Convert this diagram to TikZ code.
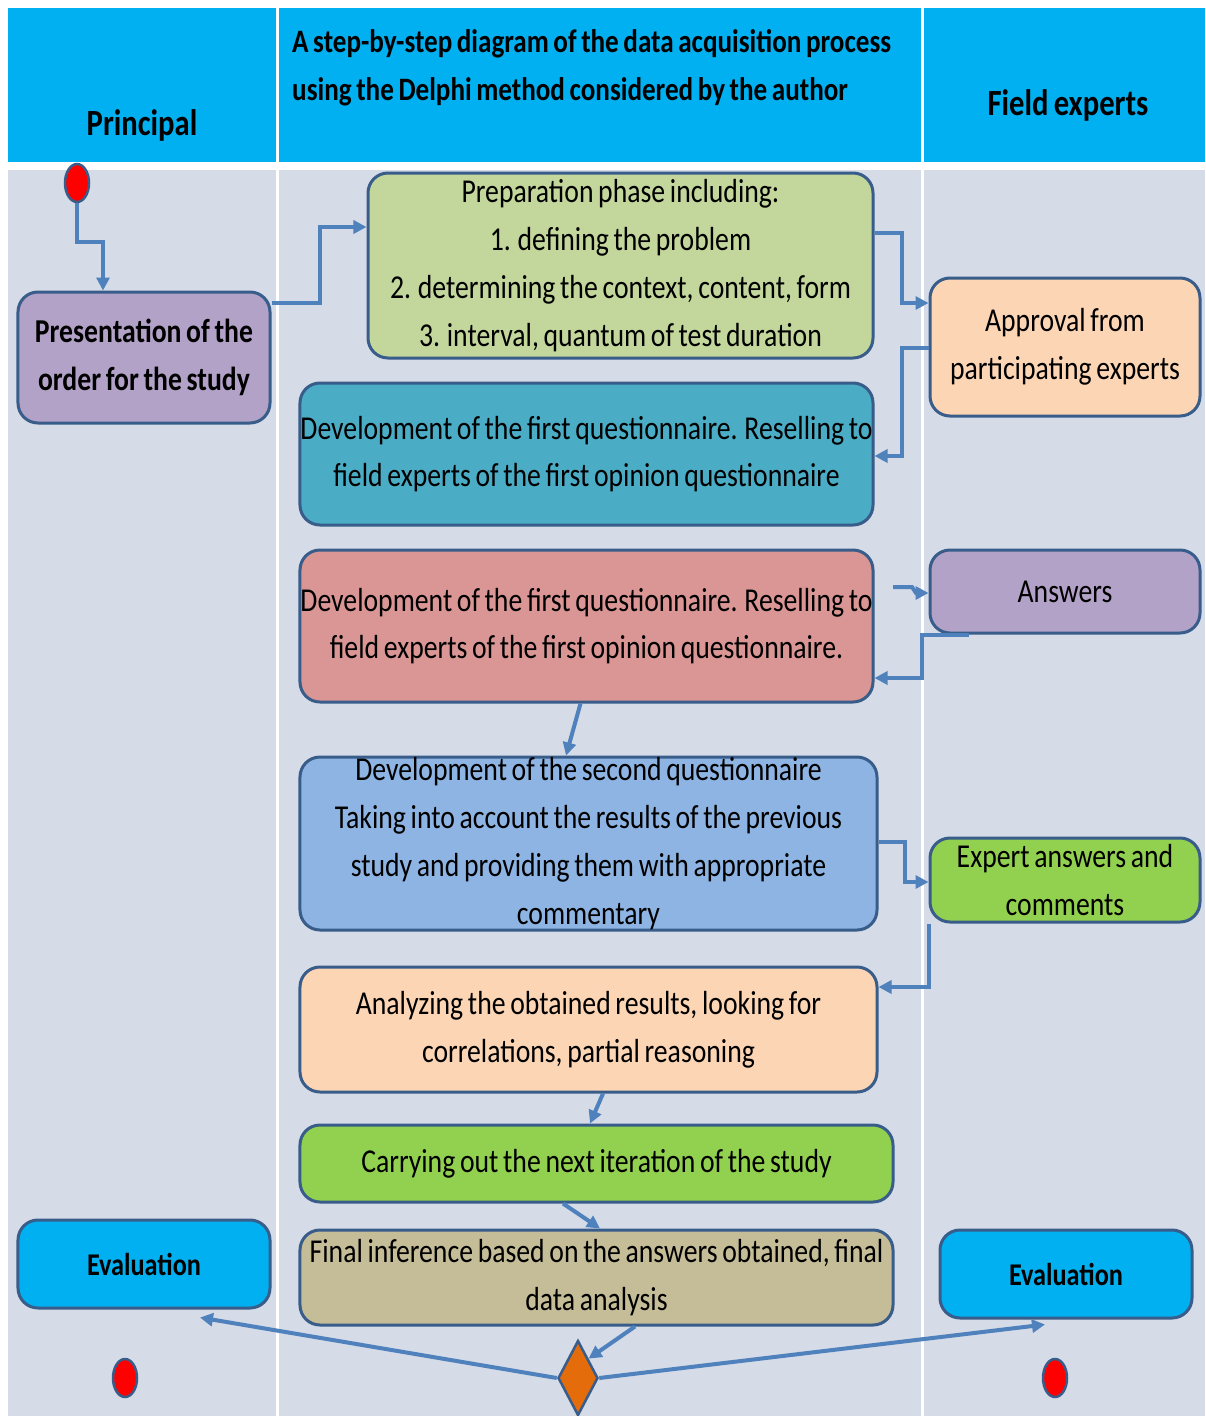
\documentclass[tikz,border=0pt]{standalone}
\usepackage{fontspec}
\setmainfont{Carlito}[FakeStretch=0.83,WordSpace=0.75]
\usetikzlibrary{shapes.geometric,arrows.meta}

\definecolor{headblue}{HTML}{00B0F0}
\definecolor{lanebg}{HTML}{D5DBE7}
\definecolor{edgeblue}{HTML}{385D8A}
\definecolor{flowblue}{HTML}{4F81BD}
\definecolor{lilac}{HTML}{B3A2C7}
\definecolor{olivegreen}{HTML}{C3D69B}
\definecolor{peach}{HTML}{FCD5B5}
\definecolor{teal}{HTML}{4BACC6}
\definecolor{rose}{HTML}{D99694}
\definecolor{skyblue}{HTML}{8EB4E3}
\definecolor{grassgreen}{HTML}{92D050}
\definecolor{tan}{HTML}{C4BD97}
\definecolor{orangedia}{HTML}{E46C0A}

\newcommand\stagefont{\fontsize{19}{27.2}\selectfont}
\newcommand\lanefont{\fontsize{21}{28}\selectfont\bfseries}

\begin{document}
\begin{tikzpicture}[x=0.2mm,y=-0.2mm,
  stage/.style={draw=edgeblue,line width=0.6mm,rounded corners=4mm,inner sep=0pt,
    align=center,font=\stagefont},
  flow/.style={flowblue,line width=0.8mm,-{Triangle[length=2.6mm,width=2.6mm]}},
  dot/.style={ellipse,draw=edgeblue,line width=0.5mm,fill=red,
    minimum width=4.8mm,minimum height=7.6mm,inner sep=0pt}]

  % lanes
  \useasboundingbox (0,0) rectangle (1205,1416);
  \fill[white] (0,0) rectangle (1205,1416);
  \fill[headblue] (8,8) rectangle (1205,162);
  \fill[lanebg] (8,170) rectangle (1205,1416);
  \draw[white,line width=0.6mm] (277,8) -- (277,1416);
  \draw[white,line width=0.6mm] (922,8) -- (922,1416);

  \node[font=\lanefont] (principal) at (142,125) {Principal};
  \node[font=\fontsize{18.6}{27.2}\selectfont\bfseries,align=left,anchor=west] (title) at (286,68)
    {A step-by-step diagram of the data acquisition process\\using the Delphi method considered by the author};
  \node[font=\lanefont] (experts) at (1068,105) {Field experts};

  \node[dot] (start) at (77,183) {};
  \node[stage,fill=lilac,font=\stagefont\bfseries,minimum width=50.4mm,minimum height=26.2mm]
    (order) at (144,357.5) {Presentation of the\\order for the study};
  \node[stage,fill=olivegreen,minimum width=101mm,minimum height=37mm] (prep) at (620.5,265.5)
    {Preparation phase including:\\1. defining the problem\\2. determining the context, content, form\\3. interval, quantum of test duration};
  \node[stage,fill=peach,minimum width=54mm,minimum height=27.6mm] (approval) at (1065,347)
    {Approval from\\participating experts};
  \node[stage,fill=teal,minimum width=114.6mm,minimum height=28.4mm] (first) at (586.5,454)
    {Development of the first questionnaire. Reselling to\\field experts of the first opinion questionnaire};
  \node[stage,fill=rose,minimum width=114.6mm,minimum height=30.4mm] (resend) at (586.5,626)
    {Development of the first questionnaire. Reselling to\\field experts of the first opinion questionnaire.};
  \node[stage,fill=lilac,minimum width=54mm,minimum height=16.6mm] (answers) at (1065,591.5) {Answers};
  \node[stage,fill=skyblue,minimum width=115.4mm,minimum height=34.6mm] (second) at (588.5,843.5)
    {Development of the second questionnaire\\Taking into account the results of the previous\\study and providing them with appropriate\\commentary};
  \node[stage,fill=grassgreen,minimum width=54mm,minimum height=16.8mm] (comments) at (1065,880)
    {Expert answers and\\comments};
  \node[stage,fill=peach,minimum width=115.4mm,minimum height=25mm] (analysis) at (588.5,1029.5)
    {Analyzing the obtained results, looking for\\correlations, partial reasoning};
  \node[stage,fill=grassgreen,minimum width=118.6mm,minimum height=15.4mm] (iteration) at (596.5,1163.5)
    {Carrying out the next iteration of the study};
  \node[stage,fill=tan,minimum width=118.6mm,minimum height=19mm] (final) at (596.5,1277.5)
    {Final inference based on the answers obtained, final\\data analysis};
  \node[stage,fill=headblue,font=\fontsize{18}{27.2}\selectfont\bfseries,minimum width=50.4mm,
    minimum height=17.6mm] (evalleft) at (144,1264) {Evaluation};
  \node[stage,fill=headblue,font=\fontsize{18}{27.2}\selectfont\bfseries,minimum width=50.4mm,
    minimum height=17.6mm] (evalright) at (1066,1274) {Evaluation};
  \node[diamond,draw=edgeblue,line width=0.5mm,fill=orangedia,minimum width=8mm,minimum height=15mm,
    inner sep=0pt] (merge) at (578,1378) {};
  \node[dot] (endleft) at (125,1378) {};
  \node[dot] (endright) at (1055,1378) {};
  \coordinate (hook) at (893,587);

  % arrows between the stages
  \draw[flow] (start.south) |- (103,242) -- (103,242 |- order.north);
  \draw[flow] (order.east |- 0,303) -| (320,227) -- (prep.west |- 0,227);
  \draw[flow] (prep.east |- 0,233) -| (902,303) -- (approval.west |- 0,303);
  \draw[flow] (approval.west |- 0,348) -| (902,456) -- (first.east |- 0,456);
  \draw[flow] (hook) -- (912,587) -- (916,593) -- (answers.west |- 0,593);
  \draw[flow] ([xshift=8mm]answers.south west) -| (922,678) -- (resend.east |- 0,678);
  \draw[flow] ([xshift=-1.2mm]resend.south) -- ([xshift=-4.5mm]second.north);
  \draw[flow] (second.east |- 0,842) -| (905,882) -- (comments.west |- 0,882);
  \draw[flow] (comments.south west) |- (analysis.east |- 0,987);
  \draw[flow] ([xshift=2.9mm]analysis.south) -- ([xshift=-1.3mm]iteration.north);
  \draw[flow] ([xshift=-6.7mm]iteration.south) -- ([xshift=0.7mm]final.north);
  \draw[flow] ([xshift=7.7mm]final.south) -- (merge.north east);
  \draw[flow] (merge.west) -- ([shift={(56,8)}]evalleft.south);
  \draw[flow] (merge.east) -- ([shift={(-21,5)}]evalright.south);
\end{tikzpicture}
\end{document}
